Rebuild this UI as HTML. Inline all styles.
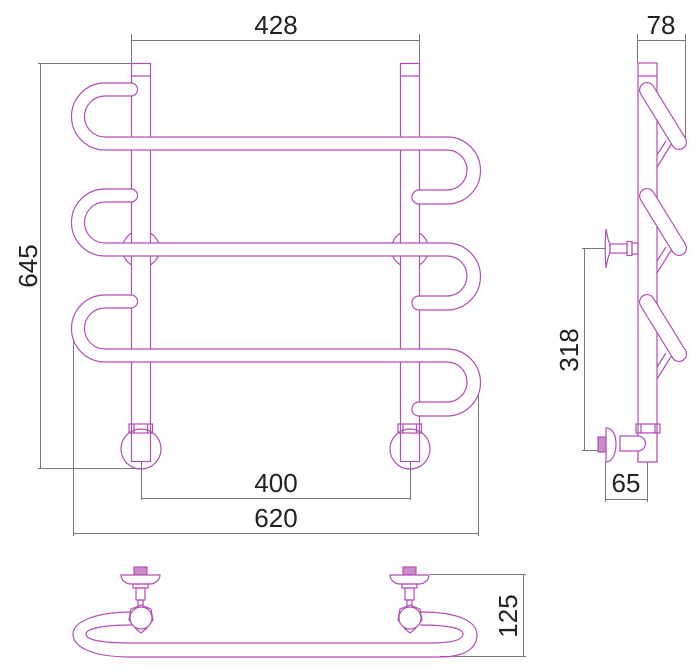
<!DOCTYPE html>
<html><head><style>html,body{margin:0;padding:0;background:#fff}svg{display:block}</style></head>
<body>
<svg width="700" height="671" viewBox="0 0 700 671" xmlns="http://www.w3.org/2000/svg">
<g fill="none" stroke="#777" stroke-width="1">
<!-- 428 -->
<line x1="131.5" y1="34" x2="131.5" y2="63"/><line x1="419.5" y1="34" x2="419.5" y2="63"/><line x1="131.5" y1="40.5" x2="419.5" y2="40.5"/>
<!-- 645 -->
<line x1="38" y1="63.5" x2="131" y2="63.5"/><line x1="38" y1="468.5" x2="141" y2="468.5"/><line x1="40.5" y1="63" x2="40.5" y2="469"/>
<!-- 400 -->
<line x1="141.5" y1="461" x2="141.5" y2="500"/><line x1="410.5" y1="461" x2="410.5" y2="500"/><line x1="141" y1="498.5" x2="410" y2="498.5"/>
<!-- 620 -->
<line x1="73.5" y1="330" x2="73.5" y2="536"/><line x1="478.5" y1="385" x2="478.5" y2="536"/><line x1="73" y1="533.5" x2="479" y2="533.5"/>
<!-- 78 -->
<line x1="637.5" y1="34" x2="637.5" y2="63"/><line x1="685.5" y1="34" x2="685.5" y2="142"/><line x1="637.5" y1="40.5" x2="685.5" y2="40.5"/>
<!-- 318 -->
<line x1="582" y1="248.5" x2="606" y2="248.5"/><line x1="582" y1="450.5" x2="600" y2="450.5"/><line x1="584.5" y1="248" x2="584.5" y2="451"/>
<!-- 65 -->
<line x1="605.5" y1="462" x2="605.5" y2="502"/><line x1="647.5" y1="462" x2="647.5" y2="502"/><line x1="605" y1="499.5" x2="648" y2="499.5"/>
<!-- 125 -->
<line x1="430" y1="574.5" x2="526" y2="574.5"/><line x1="440" y1="656.5" x2="526" y2="656.5"/><line x1="523.5" y1="574" x2="523.5" y2="657"/>
</g>
<g font-family="Liberation Sans, sans-serif" font-size="26" fill="#222" text-anchor="middle">
<text x="276" y="34">428</text>
<text x="661" y="34">78</text>
<text x="276" y="492">400</text>
<text x="276" y="527">620</text>
<text x="626" y="492">65</text>
<text transform="translate(37,266) rotate(-90)">645</text>
<text transform="translate(578,350) rotate(-90)">318</text>
<text transform="translate(517,616) rotate(-90)">125</text>
</g>
<g fill="none" stroke="#b24fb4" stroke-width="1.2">
<!-- mid circles -->
<circle cx="141" cy="249" r="18.5"/><circle cx="410" cy="249" r="18.5"/>
<!-- posts -->
<rect x="131.5" y="63.5" width="19" height="398" fill="#fff"/><line x1="131.5" y1="76" x2="150.5" y2="76"/>
<rect x="400.5" y="63.5" width="19" height="398" fill="#fff"/><line x1="400.5" y1="76" x2="419.5" y2="76"/>
<!-- bottom circles -->
<circle cx="141" cy="449" r="20"/><circle cx="410" cy="449" r="20"/>
<rect x="129" y="424" width="23.5" height="9"/><line x1="134" y1="424" x2="134" y2="433"/><line x1="147.5" y1="424" x2="147.5" y2="433"/>
<rect x="398" y="424" width="23.5" height="9"/><line x1="403" y1="424" x2="403" y2="433"/><line x1="416.5" y1="424" x2="416.5" y2="433"/>
<!-- rungs -->
<g fill="#fff">
<path d="M131,83 H105 A33.5,33.5 0 0 0 105,150 H447 A20,20 0 0 1 447,190 H419 A7,7 0 0 0 419,204 H447 A33.5,33.5 0 0 0 447,137 H105 A20.5,20.5 0 0 1 105,96 H131 A6.5,6.5 0 0 0 131,83 Z"/>
<path d="M131,189 H105 A33.5,33.5 0 0 0 105,256 H447 A20,20 0 0 1 447,296 H419 A7,7 0 0 0 419,310 H447 A33.5,33.5 0 0 0 447,243 H105 A20.5,20.5 0 0 1 105,202 H131 A6.5,6.5 0 0 0 131,189 Z"/>
<path d="M131,295 H105 A33.5,33.5 0 0 0 105,362 H447 A20,20 0 0 1 447,402 H419 A7,7 0 0 0 419,416 H447 A33.5,33.5 0 0 0 447,349 H105 A20.5,20.5 0 0 1 105,308 H131 A6.5,6.5 0 0 0 131,295 Z"/>
</g>
<!-- side view -->
<rect x="638" y="63" width="19" height="399" fill="#fff"/><line x1="638" y1="76" x2="657" y2="76"/>
<g>
<line x1="657" y1="167" x2="672" y2="143"/><line x1="657" y1="155" x2="666" y2="141"/>
<line x1="657" y1="273" x2="672" y2="249"/><line x1="657" y1="261" x2="666" y2="247"/>
<line x1="657" y1="379" x2="672" y2="355"/><line x1="657" y1="367" x2="666" y2="353"/>
</g>
<g stroke-linecap="round">
<line x1="647" y1="90" x2="679" y2="142" stroke-width="16"/><line x1="647" y1="90" x2="679" y2="142" stroke="#fff" stroke-width="13.6"/>
<line x1="647" y1="196" x2="679" y2="248" stroke-width="16"/><line x1="647" y1="196" x2="679" y2="248" stroke="#fff" stroke-width="13.6"/>
<line x1="647" y1="302" x2="679" y2="354" stroke-width="16"/><line x1="647" y1="302" x2="679" y2="354" stroke="#fff" stroke-width="13.6"/>
</g>
<!-- upper valve side -->
<path d="M606,229 C605,240 605,258 606,268 C607,262 608,256 610,253 L610,244 C608,241 607,235 606,229 Z" fill="#fff"/>
<rect x="610" y="244" width="17" height="9"/><rect x="627" y="241.5" width="5" height="14"/><rect x="632" y="243" width="6" height="11"/>
<!-- lower valve side -->
<rect x="636" y="424" width="24" height="9"/><line x1="641" y1="424" x2="641" y2="433"/><line x1="655" y1="424" x2="655" y2="433"/>
<rect x="638" y="433" width="19" height="29" fill="#fff"/>
<path d="M620,436 H638 A7,7 0 0 1 638,451 H620 Z" fill="#fff"/>
<path d="M606,428 C612,428 616,434 616,444 C616,454 612,462 606,462 Z" fill="#fff"/>
<rect x="598" y="437" width="8" height="15" fill="#c98ccc"/>
<!-- bottom view -->
<path d="M132,612 C95,612 73,622 73,634 C73,648 95,657 130,657 H440 C465,657 477,648 477,635 C477,622 460,612 420,612"/>
<path d="M132,625 C102,625 86,629 86,634 C86,640 102,643 130,643 H430 C452,643 463,640 463,634 C463,629 452,625 420,625"/>
<g id="v1">
<rect x="134" y="567" width="13" height="8" fill="#c98ccc"/>
<path d="M121,575 H160 C160,580 155,584 150,584 H131 C126,584 121,580 121,575 Z" fill="#fff"/>
<rect x="133" y="584" width="15" height="4"/><rect x="136" y="588" width="9" height="12"/><rect x="138" y="600" width="5" height="6"/>
<path d="M141,605 L151,609 L153,620 L146,629 L141,633 L136,629 L129,620 L131,609 Z" fill="#fff"/>
<circle cx="141" cy="618" r="11" fill="#fff"/>
</g>
<use href="#v1" x="269"/>
</g>
</svg>
</body></html>
